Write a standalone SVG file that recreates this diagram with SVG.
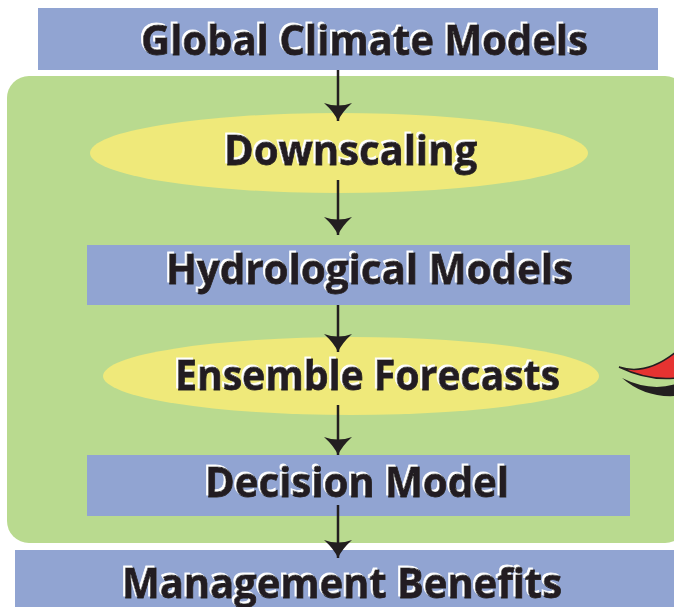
<svg xmlns="http://www.w3.org/2000/svg" width="674" height="607" viewBox="0 0 674 607">
<defs>
<style>
.box{fill:#91a4d2}
.ell{fill:#efe97a}
.grp{fill:#b9da8f}
.t{font-family:"Open Sans","Noto Sans","Liberation Sans",sans-serif;font-weight:700;font-size:42px;fill:#231f20;stroke:#231f20;stroke-width:0.8;filter:url(#wsh)}
.ln{stroke:#231f20;stroke-width:2.5;fill:none}
</style>
<filter id="wsh" x="-5%" y="-20%" width="110%" height="140%">
<feOffset in="SourceAlpha" dx="-2.5" dy="-2" result="o"/>
<feFlood flood-color="#ffffff"/>
<feComposite in2="o" operator="in" result="w"/>
<feMerge><feMergeNode in="w"/><feMergeNode in="SourceGraphic"/></feMerge>
</filter>
<marker id="ah" viewBox="-20 -15 21 30" markerUnits="userSpaceOnUse" markerWidth="21" markerHeight="30" refX="0" refY="0" orient="auto">
<path d="M-18,-14 Q-9,-4 0,0 Q-9,4 -18,14 Q-13,0 -18,-14 Z" fill="#231f20"/>
</marker>
</defs>
<rect width="674" height="607" fill="#ffffff"/>
<g id="group-bg">
<rect class="grp" x="7" y="76" width="680" height="467" rx="22" ry="22"/>
</g>
<g id="global-climate-models">
<rect class="box" x="38" y="8" width="620" height="62"/>
<text class="t" x="141" y="55" textLength="447" lengthAdjust="spacingAndGlyphs">Global Climate Models</text>
</g>
<g id="downscaling">
<ellipse class="ell" cx="339" cy="153" rx="249" ry="40"/>
<text class="t" x="224" y="165" textLength="253" lengthAdjust="spacingAndGlyphs">Downscaling</text>
</g>
<g id="hydrological-models">
<rect class="box" x="87" y="245" width="543" height="60"/>
<text class="t" x="166" y="284" textLength="407" lengthAdjust="spacingAndGlyphs">Hydrological Models</text>
</g>
<g id="ensemble-forecasts">
<ellipse class="ell" cx="351" cy="376" rx="248" ry="39"/>
<text class="t" x="175" y="390" textLength="385" lengthAdjust="spacingAndGlyphs">Ensemble Forecasts</text>
</g>
<g id="decision-model">
<rect class="box" x="87" y="455" width="543" height="61"/>
<text class="t" x="205" y="497" textLength="304" lengthAdjust="spacingAndGlyphs">Decision Model</text>
</g>
<g id="management-benefits">
<rect class="box" x="15" y="550" width="660" height="57"/>
<text class="t" x="122" y="598" textLength="440" lengthAdjust="spacingAndGlyphs">Management Benefits</text>
</g>
<g id="red-claw">
<path d="M619,367 Q646,376 676,352 L676,378 Q648,381 619,367 Z" fill="#e63331" stroke="#231f20" stroke-width="1.5"/>
<path d="M622,378 Q650,392 676,384 L676,396 Q645,398 622,378 Z" fill="#231f20"/>
</g>
<g id="connectors">
<line class="ln" x1="338" y1="70" x2="338" y2="121" marker-end="url(#ah)"/>
<line class="ln" x1="338" y1="180" x2="338" y2="235" marker-end="url(#ah)"/>
<line class="ln" x1="338" y1="305" x2="338" y2="352" marker-end="url(#ah)"/>
<line class="ln" x1="338" y1="405" x2="338" y2="455" marker-end="url(#ah)"/>
<line class="ln" x1="338" y1="505" x2="338" y2="558" marker-end="url(#ah)"/>
</g>
</svg>
